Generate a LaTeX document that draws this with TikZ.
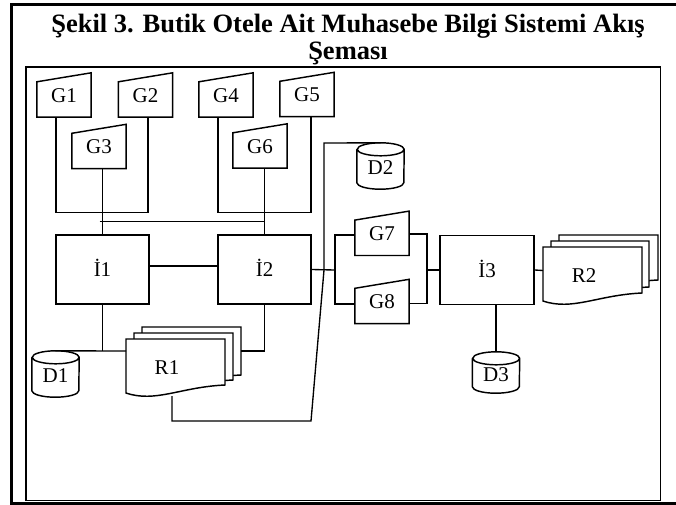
\documentclass[tikz,border=0pt]{standalone}
\usepackage{fontspec}
\setmainfont{Liberation Serif}
\usetikzlibrary{calc}
\newcommand\maninput[1]{\draw[shapeline] (#1.south west) -- ([yshift=-9pt]#1.north west) -- (#1.north east) -- (#1.south east) -- cycle;}
\newcommand\cylshape[1]{\draw[shapeline] ([yshift=-6.5pt]#1.north west) -- ([yshift=6.5pt]#1.south west)
  arc[start angle=180,end angle=360,x radius=23.5pt,y radius=6.5pt]
  -- ([yshift=-6.5pt]#1.north east)
  arc[start angle=0,end angle=180,x radius=23.5pt,y radius=6.5pt]
  arc[start angle=180,end angle=360,x radius=23.5pt,y radius=6.5pt];}
\newcommand\docshape[4]{%
  \pgfmathsetmacro\docW{#3-#1}%
  \pgfmathsetmacro\docXa{#1+0.3*\docW}\pgfmathsetmacro\docXb{#1+0.55*\docW}%
  \pgfmathsetmacro\docYl{#4+8}\pgfmathsetmacro\docYa{#4+18}\pgfmathsetmacro\docYb{#4+2}%
  \filldraw[shapeline,fill=white] (#1,#2) -- (#3,#2) -- (#3,#4) .. controls (\docXb,\docYb) and (\docXa,\docYa) .. (#1,\docYl) -- cycle;}
\begin{document}
\begin{tikzpicture}[x=1pt,y=-1pt,line join=miter,
  lbl/.style={font=\fontsize{21}{23}\selectfont, text height=14pt, text depth=0pt, inner sep=0pt},
  shapeline/.style={line width=1.45pt},
  conn/.style={line width=1.35pt},
  gin/.style={lbl, minimum width=54pt, minimum height=44pt},
  proc/.style={lbl, draw, shapeline, minimum width=93pt, minimum height=69pt},
  cylbox/.style={lbl, text height=17.5pt, minimum width=47pt},
  doctext/.style={lbl},
  titlefont/.style={font=\bfseries\fontsize{26.5}{27}\selectfont, inner sep=0pt, anchor=base}]
\useasboundingbox (0,0) rectangle (676,504);
% frames
\draw[line width=3pt] (11.5,4) rectangle (700,503);
\draw[line width=1.6pt] (26,67) rectangle (660.5,500.5);
% title
\node[titlefont] (T1) at (348,32) {Şekil 3. Butik Otele Ait Muhasebe Bilgi Sistemi Akış};
\node[titlefont] (T2) at (348,59) {Şeması};
% input nodes
\node[gin] (G1) at (64,95) {G1};
\node[gin] (G2) at (145.5,95) {G2};
\node[gin] (G4) at (226,95) {G4};
\node[gin] (G5) at (307,94.5) {G5};
\node[gin] (G3) at (99,146.5) {G3};
\node[gin] (G6) at (260,146) {G6};
\node[gin] (G7) at (382,233.3) {G7};
\node[gin] (G8) at (382,301.5) {G8};
\foreach \g in {G1,G2,G3,G4,G5,G6,G7,G8} {\maninput{\g}}
% processes
\node[proc] (I1) at (102.5,269.5) {İ1};
\node[proc] (I2) at (264.5,269.5) {İ2};
\node[proc, minimum width=94pt] (I3) at (487,270) {İ3};
% storage
\node[cylbox, minimum height=46pt] (D1) at (55.5,374) {D1};
\node[cylbox, minimum height=46pt] (D2) at (380.5,166) {D2};
\node[cylbox, minimum height=41pt] (D3) at (496,372.5) {D3};
\foreach \d in {D1,D2,D3} {\cylshape{\d}}
% reports
\docshape{142}{327}{241}{375}
\docshape{134}{333}{233}{380}
\docshape{126}{339}{225}{385}
\docshape{559}{235}{658}{280}
\docshape{551}{241}{649}{287}
\docshape{543}{247}{642}{293}
\node[doctext] (R1) at (167,367) {R1};
\node[doctext] (R2) at (584,275) {R2};
\coordinate (R1in) at (126,351);
\coordinate (R1back) at (241,351);
\coordinate (R1out) at (172,396);
\coordinate (R2in) at (543,270.5);
\coordinate (J1) at (335,270);
\coordinate (J2) at (427,270);
\coordinate (K1) at (311,421);
\coordinate (K2) at (324,270);
\coordinate (K3) at (324,143);
% connectors
\draw[conn] ([xshift=-8pt]G1.south) -- ++(0,95) -| ([xshift=2.5pt]G2.south);
\draw[conn] ([xshift=-8pt]G4.south) -- ++(0,95) -| ([xshift=4pt]G5.south);
\draw[conn] (G3.south -| I1.north) -- (I1.north);
\draw[conn] (G6.south -| I2.north) -- (I2.north);
\draw[conn] (I1.north) ++(-3,-13) -- ($(I2.north)+(0,-13)$);
\draw[conn] ([yshift=3.5pt]I1.east) -- ([yshift=3.5pt]I2.west);
\draw[conn] (I2.east) -- (J1);
\draw[conn] ([yshift=-1.7pt]G7.west) -| (J1) |- ([yshift=-2.5pt]G8.west);
\draw[conn] ([yshift=-0.7pt]G7.east) -| (J2) |- ([yshift=-2pt]G8.east);
\draw[conn] (J2) -- (I3.west);
\draw[conn] (I3.east) -- (R2in);
\draw[conn] (D3.north) -- (D3.north |- I3.south);
\draw[conn] (I1.south) -- (I1.south |- D1.north);
\draw[conn] (D1.north) -- (R1in);
\draw[conn] (I2.south) |- (R1back);
\draw[conn] (R1out) |- (K1) -- (K2) -- (K3) -- (D2.north);
\end{tikzpicture}
\end{document}
